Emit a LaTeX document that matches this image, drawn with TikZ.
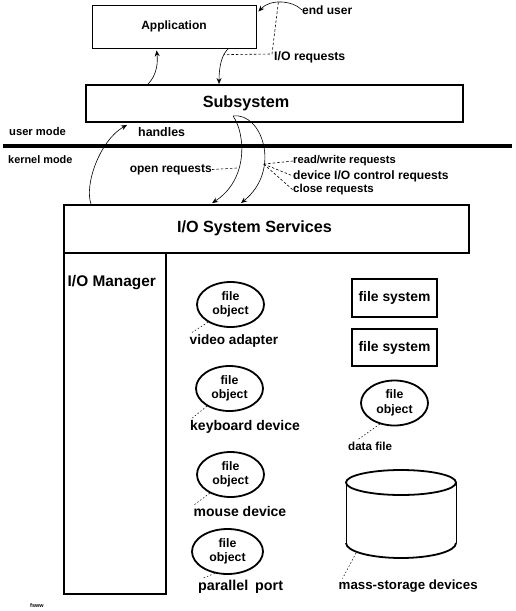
\documentclass[tikz,border=0pt]{standalone}
\usepackage{fontspec}
\setmainfont{Liberation Sans}
\usetikzlibrary{shapes.geometric,arrows.meta,calc}
\newcommand\fsz[1]{\fontsize{#1}{14.5}\selectfont\bfseries}
\begin{document}
\begin{tikzpicture}[x=1pt,y=-1pt,
  thinbox/.style={draw,line width=0.9pt,inner sep=0pt},
  thickbox/.style={draw,line width=1.9pt,inner sep=0pt},
  fobj/.style={ellipse,draw,line width=1.8pt,minimum width=67pt,minimum height=45pt,inner sep=0pt,align=center,font=\fsz{12.3}},
  txt/.style={inner sep=0pt,font=\fsz{#1}},
  arr/.style={line width=0.6pt,-{Stealth[length=6pt,width=5pt]}},
  dsh/.style={line width=0.6pt,dash pattern=on 2.5pt off 2pt},
  ldr/.style={line width=0.5pt,dash pattern=on 1.5pt off 2pt}]
\useasboundingbox (0,0) rectangle (515,611);
% boxes
\node[thinbox,minimum width=164pt,minimum height=43pt,font=\fsz{12}] (app) at (174,26.5) {Application};
\node[thickbox,minimum width=377pt,minimum height=37pt] (sub) at (274.5,103.5) {};
\node[txt=16.2] (subt) at (246,103) {Subsystem};
\node[thickbox,minimum width=405pt,minimum height=48pt] (iosys) at (266.5,229) {};
\node[txt=16.2] (iosyst) at (254.5,228.5) {I/O System Services};
\node[thickbox,minimum width=102pt,minimum height=341pt] (iomgr) at (115,423.5) {};
\node[txt=15.4,anchor=west] (iomgrt) at (67.5,283) {I/O Manager};
\node[thickbox,minimum width=85pt,minimum height=38pt,font=\fsz{13.9}] (fs1) at (394.5,298) {file system};
\node[thickbox,minimum width=85pt,minimum height=37pt,font=\fsz{13.9}] (fs2) at (394.5,347.5) {file system};
% separator
\draw[line width=4pt] (3,146) -- (512,146);
\node[txt=11.2,anchor=west] (um) at (9,131) {user mode};
\node[txt=10.9,anchor=west] (km) at (8,160) {kernel mode};
% labels top
\node[txt=12,anchor=west] (eu) at (302,10) {end user};
\node[txt=12.3,anchor=west] (ioreq) at (274,57) {I/O requests};
\node[txt=12.4,anchor=west] (hdl) at (138,132) {handles};
\node[txt=12,anchor=east] (oreq) at (212,169.5) {open requests};
\node[txt=11.2,anchor=west] (rw) at (293,161) {read/write requests};
\node[txt=12.1,anchor=west] (dev) at (293,176) {device I/O control requests};
\node[txt=11.5,anchor=west] (cl) at (293,190) {close requests};
% arrows
\draw[arr] ($(sub.north west)+(63,0)$) .. controls (157,75) and (158,62) .. ($(app.south west)+(65,2)$);
\draw[arr] ($(app.south west)+(137,0)$) .. controls (222,54) and (219,66) .. coordinate[pos=0.28] (dn) ($(sub.north west)+(134,0)$);
\draw[arr] (eu.west) .. controls (292,0) and (270,-1) .. coordinate[pos=0.55] (euc) ($(app.north east)+(2,7)$);
\draw[dsh] (euc) -- ($(ioreq.west)+(-2,-3)$) -- (dn);
\draw[arr] ($(iosys.north west)+(28,0)$) .. controls (84,185) and (100,140) .. ($(sub.south west)+(42,2)$);
\draw[arr] ($(sub.south west)+(148,-7)$) .. controls (246,135) and (248,180) .. coordinate[pos=0.6] (ca) ($(iosys.north west)+(149,-1)$);
\draw[arr] ($(sub.south west)+(148,-7)$) .. controls (262,112) and (282,170) .. coordinate[pos=0.66] (cb) ($(iosys.north west)+(178,-1)$);
\draw[dsh] (oreq.east) -- (ca);
\draw[dsh] (cb) -- (rw.west);
\draw[dsh] (cb) -- (dev.west);
\draw[dsh] (cb) -- (cl.west);
% file objects
\node[fobj] (e1) at (230.5,304.5) {file\\object};
\node[fobj] (e2) at (229.5,388.5) {file\\object};
\node[fobj] (e3) at (230.5,474.5) {file\\object};
\node[fobj,minimum width=71pt] (e4) at (227.5,551.5) {file\\object};
\node[fobj] (e5) at (394.5,403) {file\\object};
\node[txt=13.6,anchor=west] (l1) at (189.5,341) {video adapter};
\node[txt=14,anchor=west] (l2) at (190,427) {keyboard device};
\node[txt=14,anchor=west] (l3) at (193.5,511) {mouse device};
\node[txt=14.3,anchor=west] (l4) at (198,587) {parallel\hspace{3pt} port};
\node[txt=11.6,anchor=west] (l5) at (348,446) {data file};
\node[txt=13.3,anchor=west] (l6) at (338.5,586) {mass-storage devices};
\draw[ldr] (e1.218) -- ($(l1.north west)+(1,-1)$);
\draw[ldr] (e2.218) -- ($(l2.north west)+(2,-2)$);
\draw[ldr] (e3.222) -- ($(l3.north west)+(1,-1)$);
\draw[ldr] (e4.240) -- ($(l4.north west)+(5,-2)$);
\draw[ldr] (e5.235) -- ($(l5.north west)+(10,-2)$);
% cylinder
\draw[line width=1.8pt] (401,482.5) ellipse [x radius=55, y radius=12.5];
\draw[line width=0.8pt] (346,482.5) -- (346,543) (456,482.5) -- (456,543);
\draw[line width=1.8pt] (346,543) .. controls (346,551.3) and (370.6,558) .. (401,558) .. controls (431.4,558) and (456,551.3) .. (456,543);
\coordinate (cyl) at (356,553);
\draw[ldr] (cyl) -- ($(l6.north west)+(4,-1)$);
% tiny mark
\node[txt=5.5,anchor=west] (mark) at (30,606) {fsww};
\end{tikzpicture}
\end{document}
